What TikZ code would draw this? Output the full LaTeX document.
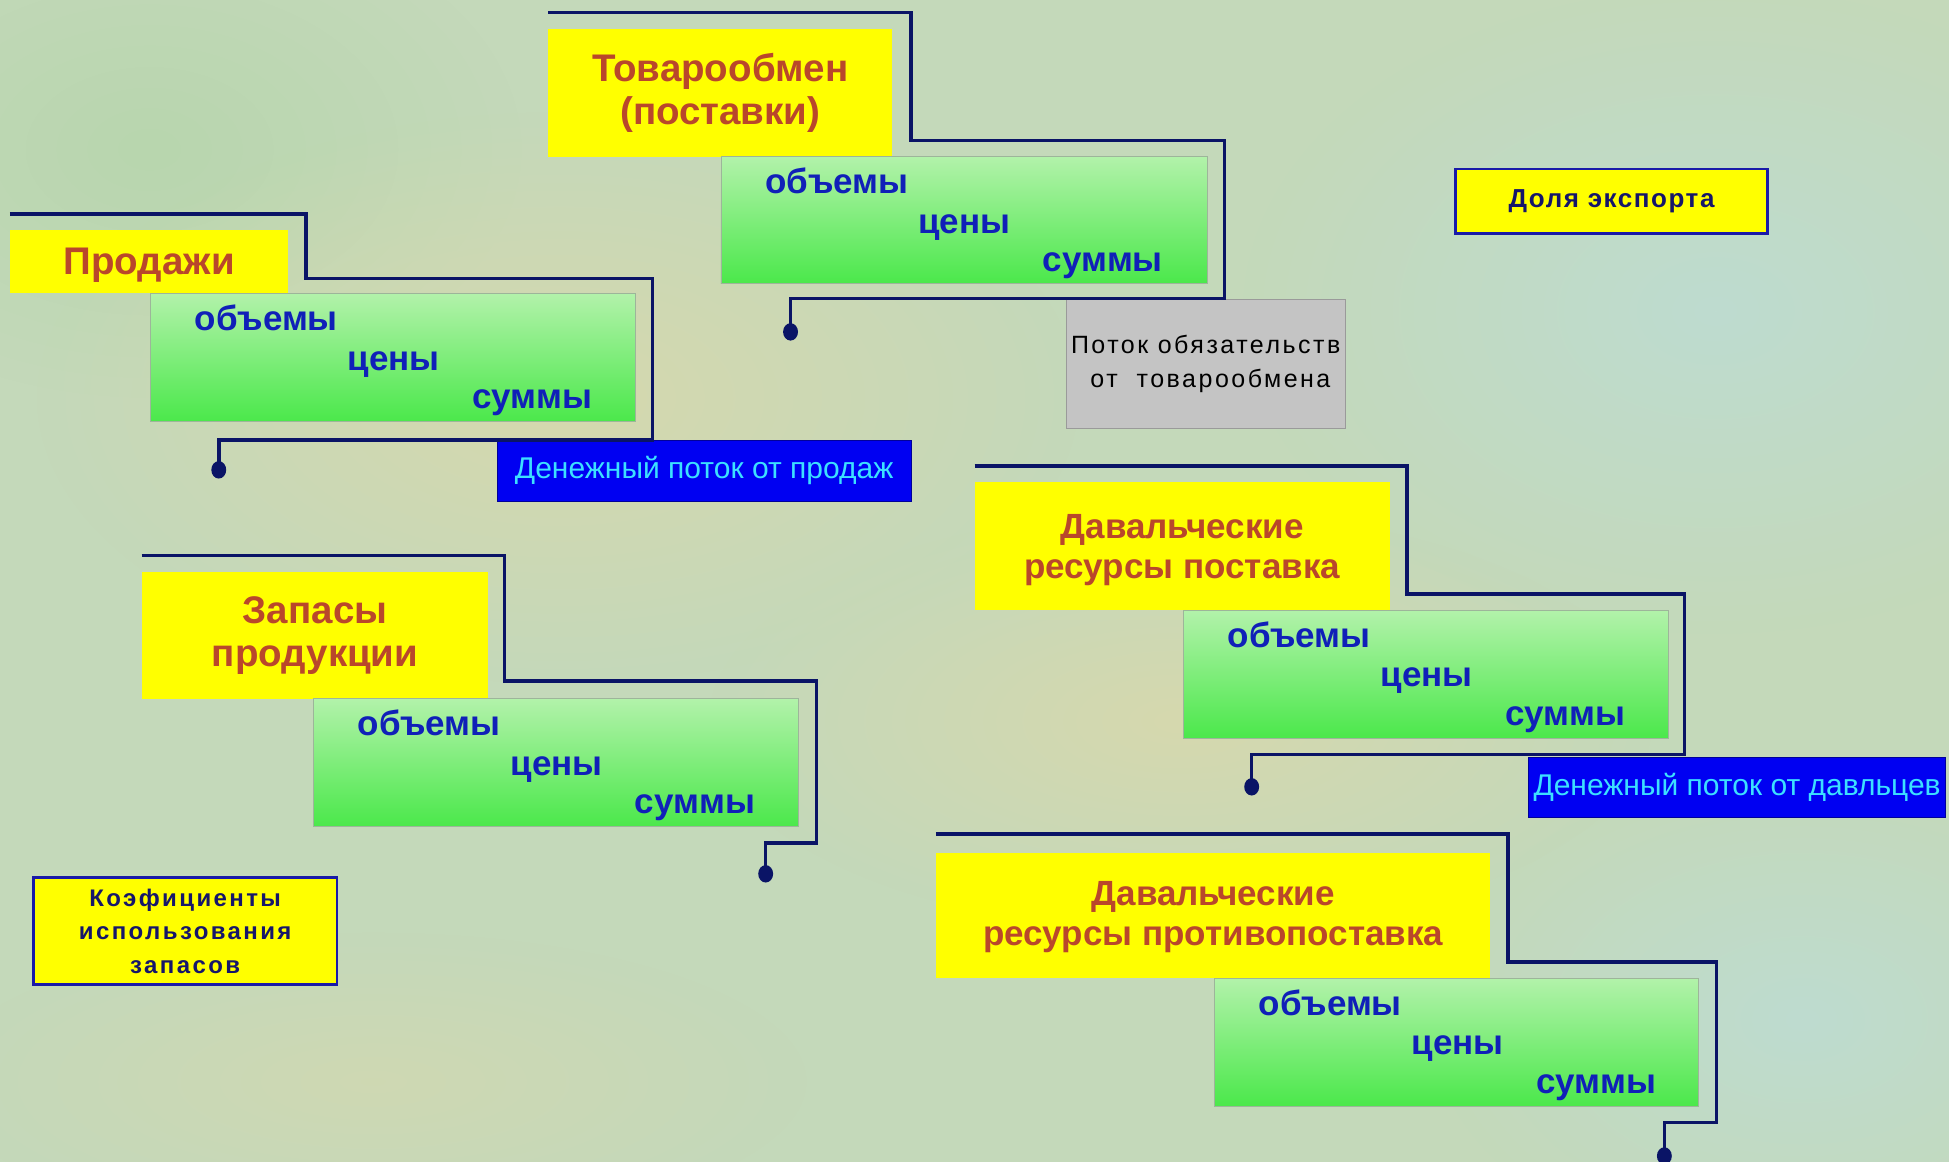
\documentclass[tikz,border=0pt]{standalone}
\usepackage{fontspec}
\setmainfont{Liberation Sans}
\usetikzlibrary{calc,fit,fadings}

\tikzfading[name=softblob, inner color=transparent!0, outer color=transparent!100]

\definecolor{bgbase}{HTML}{C4D9BA}
\definecolor{bgbeige}{HTML}{D6D8AE}
\definecolor{bgblue}{HTML}{BEDCD0}
\definecolor{bggreen}{HTML}{B8D6AE}
\definecolor{ttlred}{HTML}{B9472B}
\definecolor{navyln}{HTML}{0A1466}
\definecolor{wordblue}{HTML}{1020B8}
\definecolor{gtop}{HTML}{B2F2AA}
\definecolor{gbot}{HTML}{4BE84B}
\definecolor{gedge}{HTML}{9DB59A}
\definecolor{ylw}{HTML}{FFFF00}
\definecolor{bluebox}{HTML}{0000F2}
\definecolor{cyantxt}{HTML}{3CE0FF}
\definecolor{grayfill}{HTML}{C4C4C4}
\definecolor{grayedge}{HTML}{9A9A9A}
\definecolor{frameblue}{HTML}{1A1AA8}
\definecolor{notetxt}{HTML}{16166A}

\tikzset{
  ybox/.style={fill=ylw, inner sep=0pt},
  titletext/.style={inner sep=0pt, align=center, text=ttlred,
    font=\fontsize{38.5}{43}\selectfont\bfseries},
  titlesmall/.style={inner sep=0pt, align=center, text=ttlred,
    font=\fontsize{35}{40}\selectfont\bfseries},
  greenbox/.style={top color=gtop, bottom color=gbot, draw=gedge, line width=0.8pt, inner sep=0pt},
  word/.style={anchor=base west, inner sep=0pt, text=wordblue,
    font=\fontsize{35}{40}\selectfont\bfseries},
  flowbox/.style={fill=bluebox, draw=blue!60!black, line width=0.8pt, inner sep=0pt},
  flowtext/.style={inner sep=0pt, text=cyantxt, font=\fontsize{30}{34}\selectfont},
  graybox/.style={fill=grayfill, draw=grayedge, line width=0.8pt, inner sep=0pt},
  graytext/.style={inner sep=0pt, align=center,
    font=\fontsize{25}{34}\selectfont\addfontfeatures{LetterSpace=10}},
  notebox/.style={fill=ylw, draw=frameblue, line width=2.5pt, inner sep=0pt},
  notetext/.style={inner sep=0pt, align=center, text=notetxt},
  bracket/.style={draw=navyln, line width=3.5pt, line join=miter},
  enddot/.style={fill=navyln, draw=none}
}

\newcommand{\gwords}[1]{%
  \node[word] (#1-a) at ($(#1.north west)+(36,30)$) {объемы};
  \node[word] (#1-b) at ($(#1.north west)+(159,62)$) {цены};
  \node[word] (#1-c) at ($(#1.north west)+(259,93)$) {суммы};
}

\begin{document}
\begin{tikzpicture}[x=1.243pt, y=-1.243pt]
% background
\fill[bgbase] (0,0) rectangle (1568,934.8);
\useasboundingbox (0,0) rectangle (1568,934.8);
\begin{scope}
\clip (0,0) rectangle (1568,934.8);
\fill[bggreen, path fading=softblob] (120,120) ellipse (300 and 200);
\fill[bgbeige, path fading=softblob] (450,320) ellipse (420 and 230);
\fill[bgbeige, path fading=softblob] (950,580) ellipse (380 and 170);
\fill[bgblue, path fading=softblob] (1380,250) ellipse (380 and 260);
\fill[bgblue, path fading=softblob] (1450,820) ellipse (300 and 200);
\fill[bgbeige, path fading=softblob, opacity=0.6] (300,870) ellipse (350 and 120);
\end{scope}

% Товарообмен
\node[ybox, fit={(441,23) (718,126)}] (tov) {};
\node[titletext] (tov-t) at (tov.center) {Товарообмен\\(поставки)};
\node[greenbox, fit={(580,126) (971,228)}] (tovg) {};
\gwords{tovg}
\node[graybox, fit={(858,241) (1082,345)}] (potok) {};
\node[graytext] (potok-t) at (potok.center) {Поток обязательств\\\ от\ \ товарообмена};

% Продажи
\node[ybox, fit={(8,185) (232,236)}] (prod) {};
\node[titletext] (prod-t) at ($(prod.center)+(0,3)$) {Продажи};
\node[greenbox, fit={(121,236) (511,339)}] (prodg) {};
\gwords{prodg}
\node[flowbox, fit={(400,354) (733,403)}] (dprod) {};
\node[flowtext] (dprod-t) at (dprod.center) {Денежный поток от продаж};

% Запасы
\node[ybox, fit={(114,460) (393,562)}] (zap) {};
\node[titletext] (zap-t) at (zap.center) {Запасы\\продукции};
\node[greenbox, fit={(252,562) (642,665)}] (zapg) {};
\gwords{zapg}

% Давальческие поставка
\node[ybox, fit={(784,388) (1118,491)}] (dav) {};
\node[titlesmall] (dav-t) at ($(dav.center)+(0,3)$) {Давальческие\\ресурсы поставка};
\node[greenbox, fit={(952,491) (1342,594)}] (davg) {};
\gwords{davg}
\node[flowbox, fit={(1230,609) (1565,658)}] (ddav) {};
\node[flowtext] (ddav-t) at (ddav.center) {Денежный поток от давльцев};

% Давальческие противопоставка
\node[ybox, fit={(753,686) (1199,787)}] (dpr) {};
\node[titlesmall] (dpr-t) at ($(dpr.center)+(0,1)$) {Давальческие\\ресурсы противопоставка};
\node[greenbox, fit={(977,787) (1366,890)}] (dprg) {};
\gwords{dprg}

% notes
\node[notebox, fit={(1171,136) (1422,188)}] (export) {};
\node[notetext, font=\fontsize{26}{30}\selectfont\bfseries\addfontfeatures{LetterSpace=6}]
  (export-t) at (export.center) {Доля экспорта};
\node[notebox, fit={(27,706) (271,792)}] (koef) {};
\node[notetext, font=\fontsize{24}{33.5}\selectfont\bfseries\addfontfeatures{LetterSpace=10}]
  (koef-t) at (koef.center) {Коэфициенты\\использования\\запасов};

% brackets
\coordinate (tov-s) at (441,10);  \coordinate (tov-e) at (636,267);
\draw[bracket] (tov-s) -- (733,10) -- (733,113) -- (985,113) -- (985,240) -- (636,240) -- (tov-e);
\coordinate (prod-s) at (8,172);  \coordinate (prod-e) at (176,378);
\draw[bracket] (prod-s) -- (246,172) -- (246,224) -- (525,224) -- (525,354) -- (176,354) -- (prod-e);
\coordinate (zap-s) at (114,447);  \coordinate (zap-e) at (616,703);
\draw[bracket] (zap-s) -- (406,447) -- (406,548) -- (657,548) -- (657,678) -- (616,678) -- (zap-e);
\coordinate (dav-s) at (784,375);  \coordinate (dav-e) at (1007,633);
\draw[bracket] (dav-s) -- (1132,375) -- (1132,478) -- (1355,478) -- (1355,607) -- (1007,607) -- (dav-e);
\coordinate (dpr-s) at (753,671);  \coordinate (dpr-e) at (1339,930);
\draw[bracket] (dpr-s) -- (1213,671) -- (1213,774) -- (1381,774) -- (1381,903) -- (1339,903) -- (dpr-e);

\foreach \d in {tov-e,prod-e,zap-e,dav-e,dpr-e}
  \fill[enddot] (\d) ellipse (6 and 7);
\end{tikzpicture}
\end{document}
